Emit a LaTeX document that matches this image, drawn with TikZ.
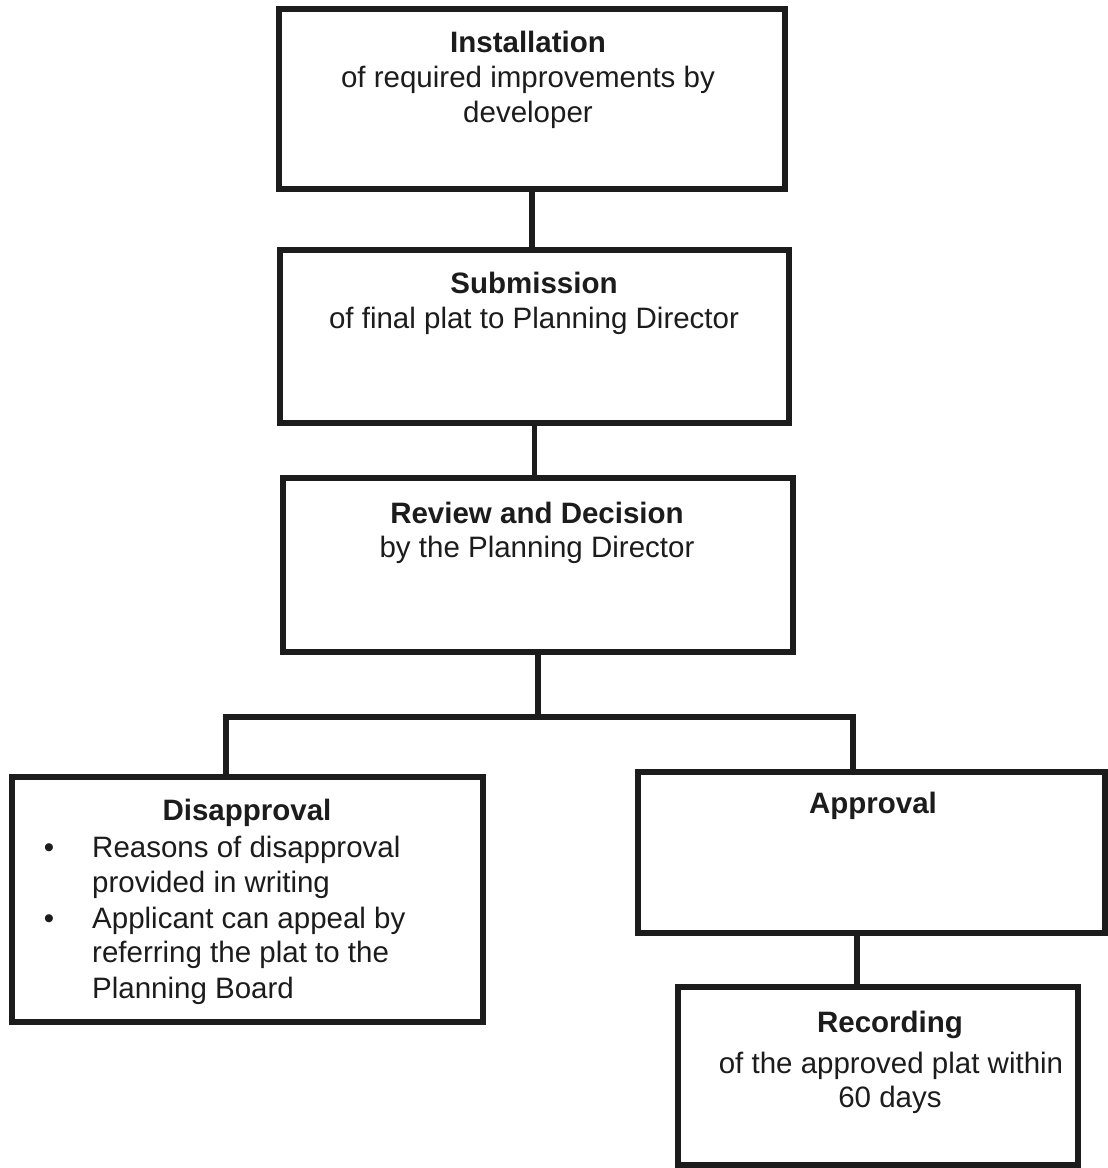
\documentclass[tikz,border=0pt]{standalone}
\usepackage{fontspec}
\setmainfont{Liberation Sans}
\definecolor{ink}{HTML}{1C1C1C}
\begin{document}
\begin{tikzpicture}[x=1pt,y=-1pt,
  box/.style={draw=ink, line width=5.5pt, rectangle, outer sep=0pt, inner sep=0pt},
  conn/.style={draw=ink, line width=5.5pt},
  lbl/.style={anchor=base, text=ink, inner sep=0pt, font=\fontsize{29.5}{35}\selectfont},
  ttl/.style={lbl, font=\fontsize{29.5}{35}\selectfont\bfseries},
  lft/.style={lbl, anchor=base west}]
\useasboundingbox (0,0) rectangle (1108,1168);
\fill[white] (0,0) rectangle (1108,1168);

% boxes
\node[box, minimum width=506pt, minimum height=180pt] (inst) at (532,99) {};
\node[box, minimum width=509pt, minimum height=173pt] (sub) at (534.5,336.5) {};
\node[box, minimum width=510pt, minimum height=174pt] (rev) at (538,565) {};
\node[box, minimum width=471pt, minimum height=245pt] (dis) at (247.5,899.5) {};
\node[box, minimum width=467pt, minimum height=161pt] (app) at (871.5,852.5) {};
\node[box, minimum width=400pt, minimum height=178pt] (rec) at (878,1076) {};

% connectors
\coordinate (jl) at (226,717);
\coordinate (jr) at (853,717);
\coordinate (ar) at (857,960);
\draw[conn] (inst.south) -- (inst.south |- sub.north);
\draw[conn] (sub.south) -- (sub.south |- rev.north);
\draw[conn] (rev.south) -- (rev.south |- jl);
\draw[conn] (jl |- dis.north) -- (jl) -- (jr) -- (jr |- app.north);
\draw[conn] (ar |- app.south) -- (ar |- rec.north);

% texts
\node[ttl] (t1a) at (528,52) {Installation};
\node[lbl] (t1b) at (528,87) {of required improvements by};
\node[lbl] (t1c) at (528,122) {developer};

\node[ttl] (t2a) at (534,293) {Submission};
\node[lbl] (t2b) at (534,328) {of final plat to Planning Director};

\node[ttl] (t3a) at (537,523) {Review and Decision};
\node[lbl] (t3b) at (537,557) {by the Planning Director};

\node[ttl] (t4a) at (247,820) {Disapproval};
\node[lbl] (b1) at (49,857) {•};
\node[lft] (t4b) at (92,857) {Reasons of disapproval};
\node[lft] (t4c) at (92,892) {provided in writing};
\node[lbl] (b2) at (49,928) {•};
\node[lft] (t4d) at (92,928) {Applicant can appeal by};
\node[lft] (t4e) at (92,962) {referring the plat to the};
\node[lft] (t4f) at (92,998) {Planning Board};

\node[ttl] (t5a) at (873,813) {Approval};

\node[ttl] (t6a) at (890,1032) {Recording};
\node[lbl] (t6b) at (891,1073) {of the approved plat within};
\node[lbl] (t6c) at (890,1107) {60 days};
\end{tikzpicture}
\end{document}
